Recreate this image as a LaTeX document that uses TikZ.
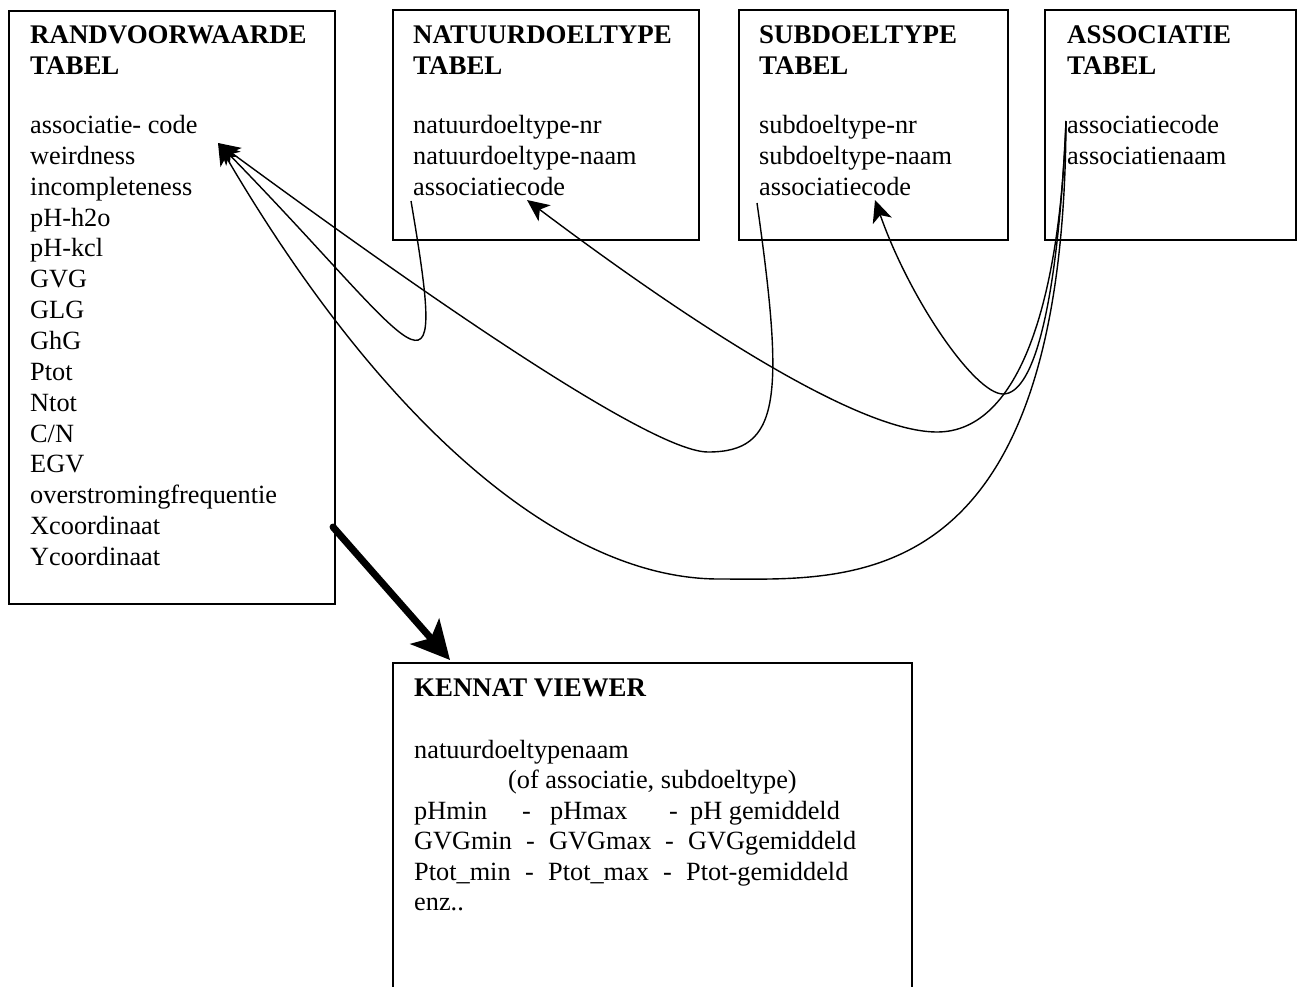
\documentclass[tikz,border=0pt]{standalone}
\usepackage{fontspec}
\setmainfont{Liberation Serif}
\usetikzlibrary{arrows.meta}
\begin{document}
\begin{tikzpicture}[x=1pt,y=-1pt,
  box/.style={draw, line width=1.8pt, anchor=north west, inner sep=0pt},
  txt/.style={anchor=base west, inner sep=0pt, font=\fontsize{26.3}{30.85}\selectfont},
  hd/.style={anchor=base west, inner sep=0pt, font=\fontsize{26.9}{30.85}\selectfont\bfseries},
  link/.style={line width=1.4pt, -{Stealth[length=22pt,width=20pt,inset=6pt]}},
  big/.style={line width=7pt, line cap=round, -{Stealth[length=38pt,width=38pt,inset=9pt]}}]
\useasboundingbox (0,0) rectangle (1298,986);
\clip (0,0) rectangle (1298,986);

% boxes
\node[box, minimum width=326pt, minimum height=593pt] (rbox) at (8,10) {};
\node[box, minimum width=306pt, minimum height=230pt] (nbox) at (392,9) {};
\node[box, minimum width=269pt, minimum height=230pt] (sbox) at (738,9) {};
\node[box, minimum width=251pt, minimum height=230pt] (abox) at (1044,9) {};
\node[box, minimum width=519pt, minimum height=360pt] (kbox) at (392,662) {};

% RANDVOORWAARDE
\node[hd] (rh1) at (30,43) {RANDVOORWAARDE};
\node[hd] (rh2) at (30,74) {TABEL};
\foreach \t [count=\i from 0] in {associatie- code, weirdness, incompleteness, pH-h2o, pH-kcl, GVG, GLG, GhG, Ptot, Ntot, C/N, EGV, overstromingfrequentie, Xcoordinaat, Ycoordinaat}
  \node[txt] (r\i) at (30,{133.5+30.85*\i}) {\t};

% NATUURDOELTYPE
\node[hd] (nh1) at (413,43) {NATUURDOELTYPE};
\node[hd] (nh2) at (413,74) {TABEL};
\foreach \t [count=\i from 0] in {natuurdoeltype-nr, natuurdoeltype-naam, associatiecode}
  \node[txt] (n\i) at (413,{133.5+30.85*\i}) {\t};

% SUBDOELTYPE
\node[hd] (sh1) at (759,43) {SUBDOELTYPE};
\node[hd] (sh2) at (759,74) {TABEL};
\foreach \t [count=\i from 0] in {subdoeltype-nr, subdoeltype-naam, associatiecode}
  \node[txt] (s\i) at (759,{133.5+30.85*\i}) {\t};

% ASSOCIATIE
\node[hd] (ah1) at (1067,43) {ASSOCIATIE};
\node[hd] (ah2) at (1067,74) {TABEL};
\foreach \t [count=\i from 0] in {associatiecode, associatienaam}
  \node[txt] (a\i) at (1067,{133.5+30.85*\i}) {\t};

% KENNAT VIEWER
\node[hd] (kh) at (414,696) {KENNAT VIEWER};
\node[txt] (k0) at (414,758) {natuurdoeltypenaam};
\node[txt] (k1) at (508,788.5) {(of associatie, subdoeltype)};
\node[txt] (k2) at (414,819) {\makebox[108pt][l]{pHmin}\makebox[28pt][l]{-}\makebox[119pt][l]{pHmax}\makebox[21pt][l]{-}pH gemiddeld};
\node[txt] (k3) at (414,849.5) {\makebox[112pt][l]{GVGmin}\makebox[23pt][l]{-}\makebox[116pt][l]{GVGmax}\makebox[23pt][l]{-}GVGgemiddeld};
\node[txt] (k4) at (414,880) {\makebox[111pt][l]{Ptot\_min}\makebox[23pt][l]{-}\makebox[115pt][l]{Ptot\_max}\makebox[23pt][l]{-}Ptot-gemiddeld};
\node[txt] (k5) at (414,910.5) {enz..};

% connector end points
\coordinate (rtip) at (218,143);
\coordinate (ntip) at (527,200);
\coordinate (stip) at (875,200);
\coordinate (nstart) at (411,201);
\coordinate (sstart) at (757,203);
\coordinate (astart) at (1066,121);
\coordinate (kfrom) at (333,527);
\coordinate (kto) at (450,660);

% connectors
\draw[link] (nstart) .. controls (450,430) and (420,350) .. (rtip);
\draw[link] (sstart) .. controls (785,400) and (780,452) .. (708,452)
                     .. controls (640,452) and (330,225) .. (rtip);
\draw[link] (astart) .. controls (1060,300) and (1020,432) .. (937,432)
                     .. controls (850,432) and (660,300) .. (ntip);
\draw[link] (astart) .. controls (1058,300) and (1035,394) .. (1003,394)
                     .. controls (975,394) and (910,300) .. (stip);
\draw[link] (astart) .. controls (1064,600) and (850,579) .. (719,579)
                     .. controls (560,579) and (380,420) .. (rtip);
\draw[big] (kfrom) -- (kto);
\end{tikzpicture}
\end{document}
